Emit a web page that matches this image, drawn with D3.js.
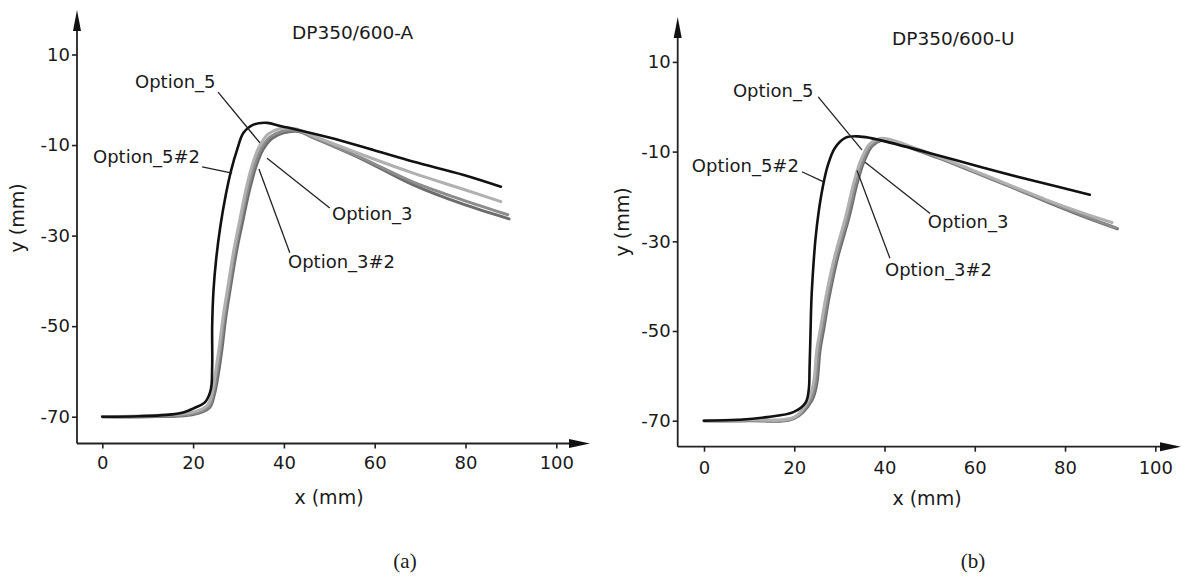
<!DOCTYPE html>
<html>
<head>
<meta charset="utf-8">
<script src="https://cdnjs.cloudflare.com/ajax/libs/d3/7.8.5/d3.min.js"></script>
<style>
  body { margin: 0; background: #fff; }
  svg text { font-family: "DejaVu Sans", Verdana, sans-serif; fill: #1a1a1a; }
  .cap { font-family: "Liberation Serif", "Times New Roman", serif; }
</style>
</head>
<body>
<svg id="chart" width="1182" height="577"></svg>
<script>
// ---- data ----
var xTicks = [0, 20, 40, 60, 80, 100];
var yTicks = [10, -10, -30, -50, -70];
var labelNames = ["Option_5", "Option_5#2", "Option_3", "Option_3#2"];

// panel (a) DP350/600-A : [x, y] in mm
var aOpt5_2 = [[0,-70],[8,-69.9],[14.2,-69.6],[18,-69],[20,-68.2],[22.7,-66.7],[23.9,-64],[24.2,-59],[24.2,-50],[24.5,-42],[25.1,-35],[26,-28],[27.2,-21],[28.4,-15.5],[29.7,-11],[31.1,-7.3],[33.3,-5.5],[36.3,-5.1],[39.2,-5.8],[42.9,-6.6],[50.2,-8.4],[59.7,-11.1],[68.6,-13.7],[79.6,-16.6],[87.8,-19.2]];
var aOpt5 = [[0,-70],[10,-69.8],[20,-69],[23.2,-67.4],[24.3,-64.2],[24.9,-60.5],[25.7,-55],[26.6,-48],[27.7,-41],[29,-33],[30.2,-27],[31.6,-20],[33,-14.5],[34.5,-10.5],[36.5,-7.6],[39,-6.4],[42.5,-6.4],[46.5,-8],[57.4,-12.2],[68.5,-16.2],[79,-19.6],[87.8,-22.5]];
var aOpt3 = [[0,-70],[10,-69.9],[20,-69.3],[23.4,-67.8],[24.5,-64.7],[25.1,-61.2],[26,-55.2],[26.9,-47.9],[28,-41],[29.3,-33.1],[30.5,-27],[32,-20],[33.5,-14.5],[35,-10.8],[37,-8.2],[39.5,-7],[42.9,-6.8],[46.5,-8.3],[57.4,-13],[68.5,-18.2],[79,-22],[89.3,-25.4]];
var aOpt3_2 = [[0,-70],[10,-70],[20,-69.5],[23.6,-68],[24.7,-65],[25.4,-61.5],[26.3,-55.5],[27.2,-48],[28.3,-41],[29.6,-33.3],[30.9,-27],[32.4,-20],[33.9,-14.6],[35.4,-11],[37.4,-8.5],[39.9,-7.3],[43.2,-7],[46.5,-8.4],[57.4,-13.2],[68.5,-18.8],[79,-22.9],[89.6,-26.3]];

// panel (b) DP350/600-U
var bOpt5_2 = [[0,-70],[8,-69.8],[14,-69.2],[19.8,-68.1],[22.5,-66],[23.2,-63.2],[23.4,-58],[23.6,-50.5],[23.8,-43.1],[24.2,-36],[24.7,-29.5],[25.4,-23.5],[26.3,-18],[27.4,-13.2],[29,-9.2],[31.4,-6.9],[34.1,-6.6],[37,-7],[39.2,-7.5],[50.3,-10.4],[61.5,-13.5],[72.6,-16.4],[85.5,-19.6]];
var bOpt5 = [[0,-70],[10,-69.8],[20,-69.2],[23.2,-65.2],[24.3,-61.4],[25,-54.1],[25.9,-48.9],[26.9,-43],[27.8,-38.5],[29,-33.2],[31.4,-24.5],[33.2,-16.9],[34.8,-11.8],[36.6,-8.4],[38.8,-7.1],[41.2,-7.3],[45.9,-8.9],[51.9,-11.1],[59.2,-14],[68.8,-17.9],[76,-20.8],[83.7,-23.6],[90.4,-25.8]];
var bOpt3 = [[0,-70],[10,-69.9],[20,-69.4],[23.6,-65.4],[24.7,-61.6],[25.4,-54.3],[26.3,-49.1],[27.3,-43],[28.2,-38.5],[29.4,-33.2],[31.8,-24.7],[33.6,-17.1],[35.2,-12],[37,-8.6],[39.2,-7.3],[41.4,-7.5],[45.9,-9.1],[51.9,-11.3],[59.2,-14.2],[68.8,-18.1],[76,-21],[83.7,-24.1],[91.3,-27]];
var bOpt3_2 = [[0,-70],[10,-70],[20,-69.5],[23.9,-65.5],[25,-61.7],[25.7,-54.4],[26.6,-49.2],[27.6,-43.1],[28.5,-38.6],[29.7,-33.3],[32.1,-24.8],[33.9,-17.2],[35.5,-12.1],[37.3,-8.7],[39.5,-7.4],[41.6,-7.6],[45.9,-9.2],[51.9,-11.4],[59.2,-14.3],[68.8,-18.2],[76,-21.2],[83.7,-24.3],[91.6,-27.2]];

// label annotations: text anchor, leader start, leader end (mm)
var aLabelText = [[7.2,2.6],[-2.05,-14.0],[50.6,-26.6],[40.9,-37.2]];
var aLeaderFrom = [[25.5,1.7],[22.0,-14.8],[50.1,-23.9],[41.3,-33.8]];
var aLeaderTo = [[34.7,-9.5],[28.6,-16.2],[36.3,-12.9],[34.5,-15.3]];
var bLabelText = [[6.4,2.2],[-2.7,-14.5],[49.6,-27.1],[40.1,-37.8]];
var bLeaderFrom = [[25.3,2.2],[21.7,-14.5],[50.1,-23.8],[41.2,-33.8]];
var bLeaderTo = [[35.0,-9.6],[26.4,-16.7],[35.7,-12.4],[33.9,-14.2]];

// ---- layout ----
var svg = d3.select("#chart");

var panels = [
  { title: "DP350/600-A", cap: "(a)", xr: [102.3, 556.3], yr: [416.7, 54.5],
    axX: 77, axY: 443.5, xEnd: 590, yTop: 10, xPad: 8,
    titleX: 292, titleY: 39, xlabX: 329, xlabY: 504, ylabX: 17, ylabY: 218, capX: 405, capY: 568,
    series: [aOpt3_2, aOpt3, aOpt5, aOpt5_2],
    texts: aLabelText, from: aLeaderFrom, to: aLeaderTo },
  { title: "DP350/600-U", cap: "(b)", xr: [704, 1155.3], yr: [420.7, 61.9],
    axX: 677.7, axY: 446.7, xEnd: 1181, yTop: 17, xPad: 10,
    titleX: 892, titleY: 45, xlabX: 927, xlabY: 505, ylabX: 622, ylabY: 222, capX: 973, capY: 568,
    series: [bOpt3_2, bOpt3, bOpt5, bOpt5_2],
    texts: bLabelText, from: bLeaderFrom, to: bLeaderTo }
];
var seriesColor = ["#6c6c6c", "#8c8c8c", "#b0b0b0", "#111"];
var seriesWidth = [3, 3, 3, 2.6];

panels.forEach(function(p) {
  var x = d3.scaleLinear().domain([0, 100]).range(p.xr);
  var y = d3.scaleLinear().domain([-70, 10]).range(p.yr);
  var g = svg.append("g");

  // x axis
  var xa = g.append("g").attr("transform", "translate(0," + p.axY + ")")
    .call(d3.axisBottom(x).tickValues(xTicks).tickSize(5).tickPadding(p.xPad).tickFormat(function(d){ return String(d); }));
  xa.select(".domain").remove();
  xa.selectAll("line").attr("stroke", "#222").attr("stroke-width", 1.6);
  xa.selectAll("text").style("font-size", "18px").attr("fill", "#1a1a1a");

  // y axis
  var ya = g.append("g").attr("transform", "translate(" + p.axX + ",0)")
    .call(d3.axisLeft(y).tickValues(yTicks).tickSize(5).tickPadding(2).tickFormat(function(d){ return String(d); }));
  ya.select(".domain").remove();
  ya.selectAll("line").attr("stroke", "#222").attr("stroke-width", 1.6);
  ya.selectAll("text").style("font-size", "18px").attr("fill", "#1a1a1a");

  // axis lines with arrows
  g.append("line").attr("x1", p.axX).attr("x2", p.xEnd - 12).attr("y1", p.axY).attr("y2", p.axY)
    .attr("stroke", "#222").attr("stroke-width", 1.8);
  g.append("path").attr("d", "M" + p.xEnd + "," + p.axY + " L" + (p.xEnd - 21) + "," + (p.axY - 4.5) + " L" + (p.xEnd - 21) + "," + (p.axY + 4.5) + " Z")
    .attr("fill", "#111");
  g.append("line").attr("x1", p.axX).attr("x2", p.axX).attr("y1", p.axY).attr("y2", p.yTop + 12)
    .attr("stroke", "#222").attr("stroke-width", 1.8);
  g.append("path").attr("d", "M" + p.axX + "," + p.yTop + " L" + (p.axX - 4) + "," + (p.yTop + 21) + " L" + (p.axX + 4) + "," + (p.yTop + 21) + " Z")
    .attr("fill", "#111");

  // curves
  var line = d3.line().x(function(d){ return x(d[0]); }).y(function(d){ return y(d[1]); })
    .curve(d3.curveCatmullRom.alpha(0.5));
  p.series.forEach(function(s, i) {
    g.append("path").datum(s).attr("d", line)
      .attr("fill", "none").attr("stroke", seriesColor[i]).attr("stroke-width", seriesWidth[i])
      .attr("stroke-linecap", "round").attr("stroke-linejoin", "round");
  });

  // leaders + labels
  labelNames.forEach(function(name, i) {
    g.append("line")
      .attr("x1", x(p.from[i][0])).attr("y1", y(p.from[i][1]))
      .attr("x2", x(p.to[i][0])).attr("y2", y(p.to[i][1]))
      .attr("stroke", "#222").attr("stroke-width", 1.3);
    g.append("text").attr("x", x(p.texts[i][0])).attr("y", y(p.texts[i][1]))
      .style("font-size", "18px").text(name);
  });

  // titles and axis labels
  g.append("text").attr("x", p.titleX).attr("y", p.titleY).style("font-size", "18.5px").text(p.title);
  g.append("text").attr("x", p.xlabX).attr("y", p.xlabY).attr("text-anchor", "middle").style("font-size", "19px").text("x (mm)");
  g.append("text").attr("transform", "translate(" + p.ylabX + "," + p.ylabY + ") rotate(-90)")
    .attr("text-anchor", "middle").attr("dy", "0.35em").style("font-size", "19px").text("y (mm)");
  g.append("text").attr("class", "cap").attr("x", p.capX).attr("y", p.capY).attr("text-anchor", "middle")
    .style("font-size", "21px").text(p.cap);
});
</script>
</body>
</html>
